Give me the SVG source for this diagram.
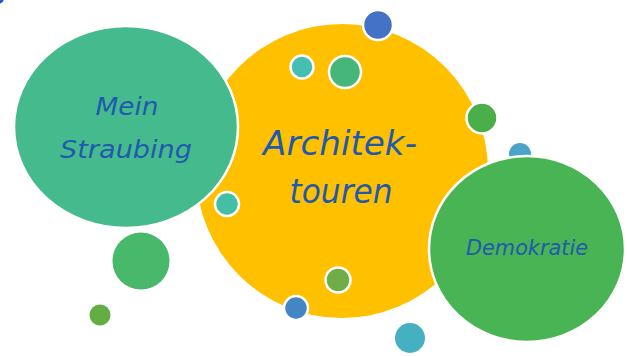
<svg xmlns="http://www.w3.org/2000/svg" width="627" height="356" viewBox="0 0 627 356">
<style>
.lbl{font-family:"DejaVu Sans","Noto Sans",sans-serif;font-style:oblique;fill:#1F5AAE;text-anchor:middle}
.ws{stroke:#FFFFFF;stroke-width:2.5}
</style>
<rect width="627" height="356" fill="#FFFFFF"/>
<g id="connectors"></g>
<circle cx="-2" cy="-2" r="6" fill="#1F5FBF"/>
<g id="node-architektouren">
<ellipse cx="342" cy="171" rx="146" ry="147" fill="#FFC000"/>
<text class="lbl" x="340" y="155" font-size="33" textLength="154" lengthAdjust="spacingAndGlyphs">Architek-</text>
<text class="lbl" x="341" y="203" font-size="33" textLength="103" lengthAdjust="spacingAndGlyphs">touren</text>
</g>
<g id="node-mein-straubing">
<ellipse cx="126" cy="127" rx="112" ry="101" fill="#45BB8D" class="ws"/>
<text class="lbl" x="127" y="115" font-size="25" textLength="63" lengthAdjust="spacingAndGlyphs">Mein</text>
<text class="lbl" x="126" y="158" font-size="25" textLength="132" lengthAdjust="spacingAndGlyphs">Straubing</text>
</g>
<g id="bubbles">
<circle cx="378" cy="25" r="15" fill="#4472C4" class="ws"/>
<circle cx="302" cy="67" r="11.5" fill="#45BFB4" class="ws"/>
<circle cx="345" cy="72" r="16" fill="#46B67A" class="ws"/>
<circle cx="482" cy="118" r="15.5" fill="#4AAF48" class="ws"/>
<circle cx="520" cy="154" r="11" fill="#4AA3C8"/>
<circle cx="227" cy="204" r="12" fill="#45BFA4" class="ws"/>
<circle cx="141" cy="261" r="28.5" fill="#48B86A"/>
<circle cx="100" cy="315" r="10.5" fill="#62AE42"/>
<circle cx="338" cy="280" r="12.5" fill="#70AD47" class="ws"/>
<circle cx="296" cy="308" r="12" fill="#4486C4" class="ws"/>
<circle cx="410" cy="338" r="15" fill="#46B0C3"/>
</g>
<g id="node-demokratie">
<ellipse cx="527" cy="249" rx="98" ry="93" fill="#48B454" class="ws"/>
<text class="lbl" x="527" y="255" font-size="21" textLength="122" lengthAdjust="spacingAndGlyphs">Demokratie</text>
</g>
</svg>
